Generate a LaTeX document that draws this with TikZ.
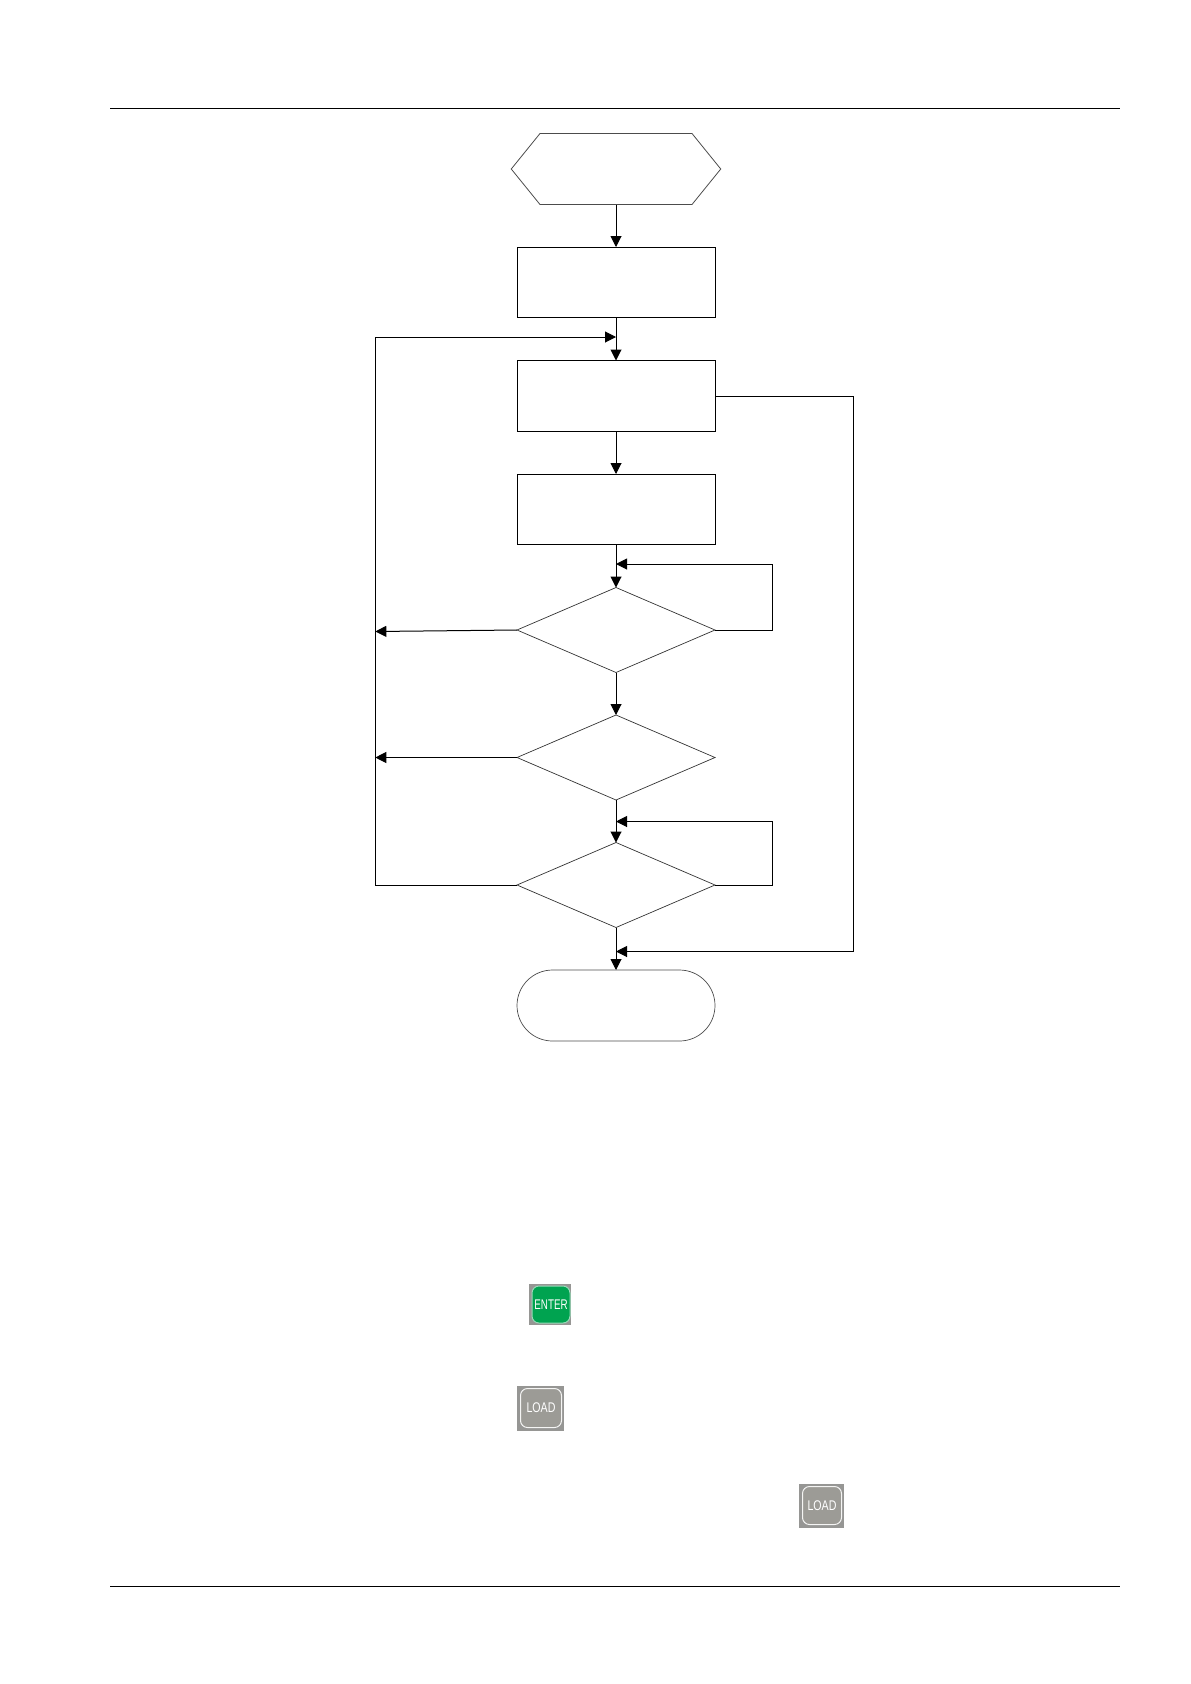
\documentclass[tikz,border=0pt]{standalone}
\usepackage{fontspec}
\setmainfont{Liberation Sans}
\usetikzlibrary{calc, positioning, shapes.geometric, shapes.misc, shapes.symbols, arrows.meta}
\definecolor{keygreen}{RGB}{0,163,80}
\definecolor{keygray}{RGB}{156,155,150}
\definecolor{keyback}{RGB}{150,150,148}
\begin{document}
\begin{tikzpicture}[
        x=1pt, y=-1pt,
        node distance=43pt,
        every node/.style={outer sep=0pt, inner sep=0pt},
        procbox/.style={rectangle, draw=black, line width=1pt, minimum width=198pt, minimum height=70.5pt},
        startbox/.style={signal, signal to=west and east, signal pointer angle=102, draw=black!70, line width=0.8pt, minimum width=209.5pt, minimum height=71pt},
        decide/.style={diamond, draw=black!80, line width=0.7pt, minimum width=198pt, minimum height=85pt},
        endbox/.style={rounded rectangle, draw=black!70, line width=0.7pt, minimum width=198pt, minimum height=71pt},
        keybg/.style={rectangle, fill=keyback},
        keytop/.style={rectangle, rounded corners=7pt, line width=1pt, text=white, font=\fontsize{14}{14}\selectfont},
        arrow/.style={line width=1pt,-{Triangle[length=11pt,width=11pt]}},
        plain/.style={line width=1pt}
    ]
    \useasboundingbox (0,0) rectangle (1191,1684);

    % Page rules
    \coordinate (headl) at (110,108);
    \coordinate (headr) at (1120,108);
    \coordinate (footl) at (110,1586);
    \coordinate (footr) at (1120,1586);
    \draw [plain] (headl) -- (headr);
    \draw [plain] (footl) -- (footr);

    % Flow nodes
    \node (start) [startbox] at (616,169) {};
    \node (init) [procbox, below=42.5pt of start] {};
    \node (run) [procbox, below=of init] {};
    \node (wait) [procbox, below=of run] {};
    \node (ask1) [decide, below=of wait] {};
    \node (ask2) [decide, below=42.5pt of ask1] {};
    \node (ask3) [decide, below=42.5pt of ask2] {};
    \node (stop) [endbox, below=42.5pt of ask3] {};

    % Joins on the trunk
    \coordinate (joinrun) at ($(init.south)+(0,19.5)$);
    \coordinate (joinask1) at ($(wait.south)+(0,19.5)$);
    \coordinate (joinask3) at ($(ask2.south)+(0,21.5)$);
    \coordinate (joinstop) at ($(ask3.south)+(0,24)$);

    % Arrows
    \draw [arrow] (start) -- (init);
    \draw [arrow] (init) -- (run);
    \draw [arrow] (run) -- (wait);
    \draw [arrow] (wait) -- (ask1);
    \draw [arrow] (ask1) -- (ask2);
    \draw [arrow] (ask2) -- (ask3);
    \draw [arrow] (ask3) -- (stop);

    % Return lines
    \draw [arrow] (ask3.west) -- ++(-141.7,0) |- (joinrun);
    \draw [arrow] (ask1.west) -- ++(-141.7,1.5);
    \draw [arrow] (ask2.west) -- ++(-141.7,0);
    \draw [arrow] (ask1.east) -- ++(57.7,0) |- (joinask1);
    \draw [arrow] (ask3.east) -- ++(57.7,0) |- (joinask3);
    \draw [arrow] ([yshift=-1pt]run.east) -- ++(138.2,0) |- (joinstop);

    % Keys
    \node (enterbg) [keybg, minimum width=42pt, minimum height=41pt] at (550,1304.5) {};
    \node (enterkey) [keytop, fill=keygreen, draw=keygreen!40, minimum width=38pt, minimum height=37pt] at (551,1304.5) {\scalebox{0.7}[1]{ENTER}};
    \node (loadbg) [keybg, minimum width=47pt, minimum height=45pt] at (540.5,1408) {};
    \node (loadkey) [keytop, fill=keygray, draw=white!90!keygray, minimum width=41pt, minimum height=39pt] at (541,1408) {\scalebox{0.76}[1]{LOAD}};
    \node (loadbgb) [keybg, minimum width=45pt, minimum height=44pt] at (821.5,1505.5) {};
    \node (loadkeyb) [keytop, fill=keygray, draw=white!90!keygray, minimum width=39pt, minimum height=38pt] at (822,1505.5) {\scalebox{0.76}[1]{LOAD}};
\end{tikzpicture}
\end{document}
